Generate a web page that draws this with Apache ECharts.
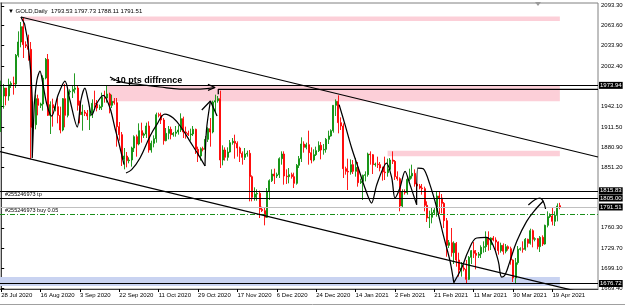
<!DOCTYPE html>
<html><head><meta charset="utf-8">
<script src="https://cdn.jsdelivr.net/npm/echarts@6/dist/echarts.min.js"></script>
<style>html,body{margin:0;padding:0;background:#fff}#c{width:625px;height:306px}</style>
</head><body><div id="c"></div>
<script>
const titleText = '\u25BC GOLD,Daily  1793.53 1797.73 1788.11 1791.51';
const dateLabels = ['28 Jul 2020','16 Aug 2020','3 Sep 2020','22 Sep 2020','11 Oct 2020','29 Oct 2020','17 Nov 2020','6 Dec 2020','24 Dec 2020','14 Jan 2021','2 Feb 2021','21 Feb 2021','11 Mar 2021','30 Mar 2021','19 Apr 2021'];
const barsPerLabel = 16;
const shiftBars = 15;
const priceTicks = [2093.30,2063.60,2033.90,2002.40,1942.10,1911.50,1880.90,1851.20,1760.30,1729.70,1699.10,1669.40];
const priceMin = 1668.5, priceMax = 2097.5;
// [open, high, low, close]
const ohlc = [
[1943,1981,1904,1958],[1958,1976,1939,1970],[1970,1970,1944,1958],[1958,1984,1951,1975],[1975,1980,1970,1977],
[1977,1987,1960,1976],[1976,2021,1970,2019],[2019,2055,2016,2039],[2039,2069,2031,2062],[2062,2075,2015,2035],
[2035,2040,2030,2033],[2033,2050,2011,2028],[2028,2039,1863,1911],[1911,1950,1874,1915],[1915,1960,1908,1954],
[1954,1960,1929,1944],[1944,1948,1940,1946],[1946,1989,1936,1985],[1985,2015,1983,2013],[2013,2021,1928,1929],
[1929,1950,1901,1945],[1945,1954,1912,1940],[1940,1945,1935,1942],[1942,1956,1917,1929],[1929,1942,1902,1907],
[1907,1955,1905,1954],[1954,1976,1911,1929],[1929,1968,1926,1964],[1964,1968,1960,1965],[1965,1974,1955,1968],
[1968,1992,1962,1970],[1970,1973,1936,1944],[1944,1951,1917,1930],[1930,1945,1906,1934],[1934,1937,1928,1932],
[1932,1937,1922,1928],[1928,1943,1907,1932],[1932,1953,1925,1947],[1947,1966,1940,1946],[1946,1952,1935,1940],
[1940,1945,1937,1942],[1942,1963,1937,1956],[1956,1966,1948,1955],[1955,1973,1948,1961],[1961,1963,1932,1944],
[1944,1960,1940,1950],[1950,1955,1945,1948],[1948,1955,1882,1912],[1912,1919,1891,1900],[1900,1904,1853,1863],
[1863,1880,1848,1868],[1868,1874,1851,1861],[1861,1866,1857,1862],[1862,1882,1852,1880],[1880,1899,1874,1897],
[1897,1900,1867,1886],[1886,1917,1884,1906],[1906,1918,1888,1899],[1899,1903,1895,1901],[1901,1918,1895,1913],
[1913,1920,1873,1877],[1877,1891,1873,1887],[1887,1899,1881,1894],[1894,1933,1888,1930],[1930,1933,1926,1929],
[1929,1933,1916,1922],[1922,1925,1885,1891],[1891,1910,1890,1902],[1902,1913,1893,1908],[1908,1912,1893,1900],
[1900,1904,1897,1902],[1902,1913,1897,1904],[1904,1914,1900,1907],[1907,1932,1904,1924],[1924,1927,1895,1904],
[1904,1912,1894,1902],[1902,1906,1898,1900],[1900,1909,1891,1901],[1901,1913,1898,1908],[1908,1909,1871,1878],
[1878,1882,1859,1868],[1868,1881,1861,1879],[1879,1882,1875,1878],[1878,1898,1876,1893],[1893,1911,1889,1909],
[1909,1925,1882,1904],[1904,1951,1902,1949],[1949,1960,1934,1951],[1951,1958,1948,1954],[1954,1966,1850,1862],
[1862,1884,1854,1877],[1877,1881,1861,1866],[1866,1881,1861,1874],[1874,1892,1873,1888],[1888,1895,1885,1890],
[1890,1900,1864,1887],[1887,1890,1867,1880],[1880,1882,1859,1872],[1872,1875,1855,1866],[1866,1880,1862,1871],
[1871,1876,1867,1872],[1872,1877,1800,1837],[1837,1839,1800,1806],[1806,1821,1801,1811],[1811,1818,1801,1812],
[1812,1816,1775,1788],[1788,1792,1784,1786],[1786,1791,1764,1776],[1776,1820,1775,1815],[1815,1833,1802,1831],
[1831,1848,1829,1841],[1841,1849,1826,1838],[1838,1843,1835,1840],[1840,1866,1835,1864],[1864,1875,1855,1871],
[1871,1875,1825,1838],[1838,1848,1826,1837],[1837,1850,1827,1840],[1840,1843,1834,1837],[1837,1843,1820,1827],
[1827,1856,1825,1854],[1854,1868,1850,1864],[1864,1896,1859,1886],[1886,1890,1873,1881],[1881,1888,1878,1885],
[1885,1906,1855,1873],[1873,1881,1857,1862],[1862,1878,1860,1870],[1870,1882,1868,1876],[1876,1890,1874,1884],
[1884,1889,1863,1877],[1877,1886,1870,1878],[1878,1895,1873,1893],[1893,1906,1886,1898],[1898,1908,1897,1906],
[1906,1944,1903,1944],[1944,1953,1928,1950],[1950,1959,1902,1918],[1918,1926,1907,1913],[1913,1917,1835,1849],
[1849,1852,1840,1845],[1845,1864,1817,1844],[1844,1863,1840,1855],[1855,1862,1841,1845],[1845,1865,1837,1851],
[1851,1859,1822,1828],[1828,1834,1826,1830],[1830,1840,1802,1839],[1839,1845,1830,1840],[1840,1873,1837,1871],
[1871,1875,1855,1870],[1870,1871,1841,1855],[1855,1858,1852,1856],[1856,1867,1850,1855],[1855,1859,1845,1850],
[1850,1852,1831,1844],[1844,1867,1832,1843],[1843,1864,1837,1848],[1848,1865,1847,1862],[1862,1875,1856,1860],
[1860,1862,1832,1837],[1837,1845,1831,1834],[1834,1836,1785,1793],[1793,1818,1791,1814],[1814,1818,1810,1813],
[1813,1836,1810,1833],[1833,1849,1830,1838],[1838,1855,1834,1842],[1842,1848,1822,1826],[1826,1828,1807,1823],
[1823,1826,1818,1820],[1820,1826,1810,1819],[1819,1822,1785,1794],[1794,1800,1769,1775],[1775,1786,1760,1776],
[1776,1790,1767,1783],[1783,1790,1780,1787],[1787,1815,1777,1808],[1808,1815,1781,1805],[1805,1811,1782,1797],
[1797,1799,1760,1771],[1771,1775,1717,1734],[1734,1742,1730,1738],[1738,1760,1717,1723],[1723,1740,1706,1737],
[1737,1739,1702,1712],[1712,1723,1687,1697],[1697,1709,1687,1700],[1700,1704,1695,1698],[1698,1712,1676,1683],
[1683,1718,1682,1716],[1716,1727,1706,1726],[1726,1739,1715,1722],[1722,1727,1698,1719],[1719,1724,1715,1721],
[1721,1734,1715,1731],[1731,1740,1723,1732],[1732,1755,1724,1745],[1745,1755,1726,1735],[1735,1746,1727,1745],
[1745,1748,1740,1742],[1742,1746,1727,1739],[1739,1740,1720,1726],[1726,1738,1723,1734],[1734,1737,1720,1725],
[1725,1736,1722,1732],[1732,1734,1726,1729],[1729,1732,1705,1712],[1712,1713,1679,1685],[1685,1715,1677,1708],
[1708,1733,1705,1728],[1728,1731,1726,1729],[1729,1740,1723,1728],[1728,1745,1726,1743],[1743,1744,1731,1737],
[1737,1759,1735,1756],[1756,1758,1731,1743],[1743,1746,1740,1744],[1744,1745,1728,1732],[1732,1748,1724,1746],
[1746,1749,1733,1736],[1736,1765,1735,1764],[1764,1785,1761,1777],[1777,1782,1775,1780],[1778,1790,1764,1770],
[1770,1785,1763,1779],[1779,1797,1770,1793],[1793.53,1797.73,1788.11,1791.51]
];
const boxLevels = [1973.94, 1815.83, 1805.00, 1676.72];
const lastPrice = 1791.51;
const tpPrice = 1815.83;
const buyPrice = 1780.5;
const tpLabel = '#255246973 tp';
const buyLabel = '#255246973 buy 0.05';
const noteText = '~10 pts diffrence';
const notePos = [44.6, 1980];
// [fromBar, toBar, top, bottom]
const pinkZones = [[8, 227, 2077.2, 2070.5], [43, 227, 1973, 1950], [157, 227, 1876, 1867.5]];
const blueZones = [[-0.5, 227, 1686.5, 1673]];
const channelUpper = [[8.0, 2076.5], [242.5, 1866.5]];
const channelLower = [[-0.5, 1874.75], [242.5, 1657.4]];
const novHighLine = [[88.2, 1960.5], [88.2, 1968], [242.5, 1968]];
const augDrop = [[8.0,2076.5],[9.5,2066],[10.6,2045],[11.5,2015],[12.2,1985],[12.6,1952],[12.6,1865],[13.4,1865],[13.4,1944.5]];
const augZigzag = [[13.4,1944.5],[14.5,1982],[15.75,1995.5],[17,1974.5],[18.6,1944.5],[20.5,1928],[23.1,1959.5],[25.9,1980.5],[27.9,1952],[30.9,1911.5],[32.4,1952],[34.0,1970],[35.3,1952],[36.8,1929.5],[38.9,1947.5],[41.5,1959],[44.2,1940],[46.2,1910],[47.6,1890.5],[49.9,1855]];
const octArc = [[50.7,1842.5],[53.0,1847.5],[56.4,1865],[60.5,1898],[63.2,1915],[66.5,1931],[69.9,1925],[73.3,1910],[76.7,1890],[80.1,1870],[82.8,1853]];
const novArrow = [[82.8,1853],[83.4,1907],[85.0,1950.5]];
const novArrowHead = [[81.5,1937],[85.0,1950.5],[87.7,1928]];
const noteArrow = [[44.2,1986.5],[46.6,1982],[50,1978],[56.4,1975.25],[64.5,1971.5],[72.6,1968.5],[80.8,1968.5],[86.9,1970.75]];
const noteArrowHead = [[84.0,1975.5],[86.9,1970.75],[84.0,1966.5]];
const janZigzag = [[137.3,1945],[139.7,1915],[142.4,1880],[145.1,1850],[147.8,1820],[150.5,1797.5],[152.6,1825],[156.6,1857.5],[158.7,1835],[160.0,1805],[162.0,1820],[164.1,1845],[166.1,1825],[168.8,1795]];
const febDrop = [[168.8,1795],[169.3,1850],[171.5,1849],[174.2,1825],[177.0,1790],[179.6,1750],[182.4,1710],[183.9,1678]];
const marArc = [[183.9,1678],[187.1,1700],[189.8,1725.5],[193.2,1745],[197.3,1746],[200.0,1733],[202.0,1710],[203.4,1686.5],[204.7,1689.5],[206.7,1710],[209.5,1740],[213.5,1770],[217.6,1790],[220.3,1800.5]];
const aprHook = [[214.2,1794.5],[217.0,1802.75],[218.9,1805],[220.2,1800.5],[221.2,1788.5]];

const nBars = ohlc.length + shiftBars;
const cats = Array.from({length: nBars}, (_, i) => String(i));
const candleData = ohlc.map(d => [d[0], d[3], d[2], d[1]]);
const isLabel = (i) => i % barsPerLabel === 0 && i / barsPerLabel < dateLabels.length;
const FONT = "'Liberation Sans', Arial, sans-serif";
const black = '#000';
const green = '#0c900c', red = '#ff0000';

function sketch(data, smooth) {
  return { type: 'line', xAxisIndex: 1, data: data, symbol: 'none', smooth: smooth, silent: true, z: 5,
    lineStyle: { color: black, width: 1.25 }, animation: false };
}
function boxLabel() {
  return { show: true, position: 'end', distance: 1, backgroundColor: black, color: '#fff', fontSize: 6,
    fontFamily: FONT, padding: [1, 1, 0, 1], formatter: p => Number(p.value).toFixed(2) };
}

const markLines = [];
boxLevels.forEach(v => markLines.push({ yAxis: v, lineStyle: { color: black, width: 1.2, type: 'solid' }, label: boxLabel() }));
markLines.push({ yAxis: lastPrice, lineStyle: { color: '#c0c0c0', width: 1, type: 'solid' }, label: boxLabel() });
markLines.push({ yAxis: buyPrice, lineStyle: { color: '#1a8f1a', width: 1, type: [5, 2, 1, 2] },
  label: { show: true, position: 'insideStartTop', distance: [5, 1], fontSize: 5.5, color: black, fontFamily: FONT, formatter: buyLabel } });
markLines.push({ yAxis: tpPrice, lineStyle: { color: black, width: 1.2, type: 'solid' },
  label: { show: true, position: 'insideStartBottom', distance: [5, 1], fontSize: 5.5, color: black, fontFamily: FONT, formatter: tpLabel } });

const zoneArea = (zones) => zones.map(z => [{ coord: [z[0], z[2]] }, { coord: [z[1], z[3]] }]);

const chart = echarts.init(document.getElementById('c'), null, { renderer: 'canvas' });
chart.setOption({
  animation: false,
  backgroundColor: '#fff',
  textStyle: { fontFamily: FONT },
  title: { text: titleText, left: 3, top: 3, textStyle: { fontSize: 6, fontWeight: 'normal', color: black, fontFamily: FONT } },
  grid: { left: 0, right: 27, top: 3, bottom: 17, show: true, borderColor: '#808080', borderWidth: 1, containLabel: false, outerBoundsMode: 'none' },
  xAxis: [{
    type: 'category', data: cats, boundaryGap: true,
    axisLine: { show: true, lineStyle: { color: '#404040', width: 1 } },
    axisTick: { show: true, alignWithLabel: true, length: 3, interval: (i) => isLabel(i), lineStyle: { color: black } },
    axisLabel: { show: true, interval: (i) => isLabel(i), formatter: (v, i) => dateLabels[Math.round(i / barsPerLabel)] || '',
      align: 'left', fontSize: 6, margin: 3, color: black, fontFamily: FONT },
    splitLine: { show: false }
  }, {
    type: 'value', min: -0.5, max: nBars - 0.5, show: false, splitLine: { show: false }
  }],
  yAxis: {
    type: 'value', position: 'right', min: priceMin, max: priceMax, scale: true,
    axisLine: { show: true, lineStyle: { color: '#404040', width: 1 } },
    axisTick: { show: true, length: 3, customValues: priceTicks, lineStyle: { color: black } },
    axisLabel: { show: true, customValues: priceTicks, formatter: v => Number(v).toFixed(2), fontSize: 6, margin: 3, color: black, fontFamily: FONT },
    splitLine: { show: false }
  },
  series: [
    { type: 'line', xAxisIndex: 1, data: [[0, priceMin]], symbol: 'none', silent: true, z: 1, lineStyle: { opacity: 0 },
      markArea: { silent: true, data: zoneArea(pinkZones).concat(zoneArea(blueZones).map(a => [Object.assign({ itemStyle: { color: '#c9d3f1' } }, a[0]), a[1]])),
        itemStyle: { color: '#fccfd8' } } },
    { type: 'candlestick', data: candleData, barWidth: 1.5, z: 3, silent: true,
      itemStyle: { color: green, color0: red, borderColor: green, borderColor0: red, borderColorDoji: green, borderWidth: 0.9 } },
    { type: 'line', xAxisIndex: 1, data: [[0, priceMin]], symbol: 'none', silent: true, z: 4, lineStyle: { opacity: 0 },
      markLine: { silent: true, symbol: ['none', 'none'], data: markLines, animation: false } },
    sketch(channelUpper, false),
    sketch(channelLower, false),
    sketch(novHighLine, false),
    sketch(augDrop, false),
    sketch(augZigzag, 0.3),
    sketch(octArc, 0.4),
    sketch(novArrow, 0.3),
    sketch(novArrowHead, false),
    sketch(noteArrow, 0.4),
    sketch(noteArrowHead, false),
    sketch(janZigzag, 0.3),
    sketch(febDrop, 0.3),
    sketch(marArc, 0.4),
    sketch(aprHook, 0.4),
    { type: 'scatter', xAxisIndex: 1, data: [notePos], symbolSize: 1, itemStyle: { color: 'rgba(0,0,0,0)' }, silent: true, z: 6,
      label: { show: true, position: [0, 0], align: 'left', verticalAlign: 'middle', formatter: noteText,
        fontSize: 9, fontWeight: 'bold', color: '#000', opacity: 1, fontFamily: FONT } }
  ],
  graphic: [
    { type: 'polygon', shape: { points: [[535, 2], [541, 2], [538, 6]] }, style: { fill: '#999' }, silent: true },
    { type: 'line', shape: { x1: 0, y1: 304.5, x2: 625, y2: 304.5 }, style: { stroke: '#a0a0a0', lineWidth: 1 }, silent: true }
  ]
});
</script></body></html>
